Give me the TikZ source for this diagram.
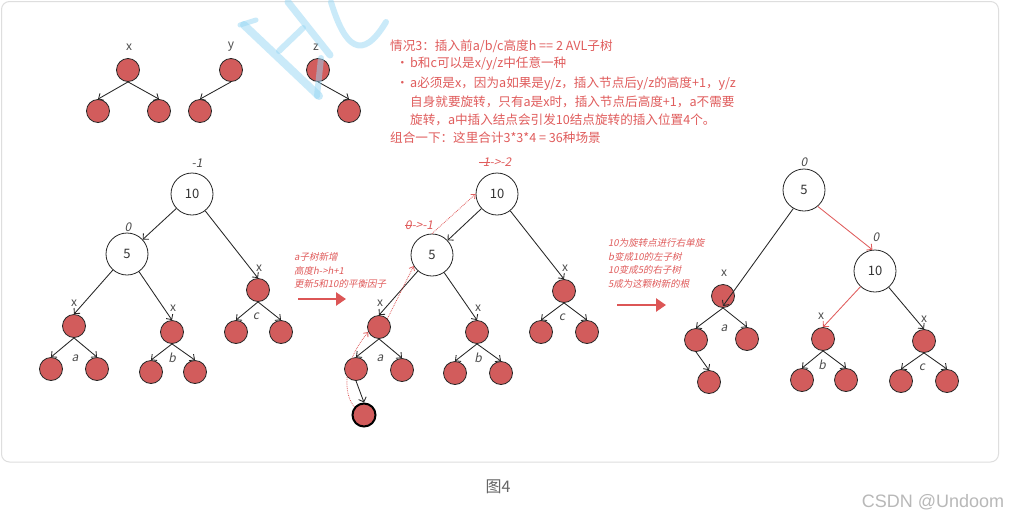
\documentclass[tikz,border=0pt]{standalone}
\usepackage{fontspec}
\setmainfont{Noto Sans CJK SC}
\newfontfamily\itf{Noto Sans CJK SC}[FakeSlant=0.2]
\newfontfamily\csdnf{Liberation Sans}
\newcommand\mystrike[1]{\setbox0=\hbox{#1}\rlap{\rule[0.33em]{\wd0}{0.7pt}}\box0}
\usetikzlibrary{arrows.meta}
\definecolor{nred}{RGB}{210,92,92}
\definecolor{tred}{RGB}{224,92,92}
\definecolor{ared}{RGB}{220,86,86}
\definecolor{wmblue}{RGB}{150,215,245}
\definecolor{framegray}{RGB}{222,222,222}
\begin{document}
\begin{tikzpicture}[x=1pt,y=-1pt,
  rn/.style={circle,draw=black!85,fill=nred,minimum size=23pt,inner sep=0pt,line width=0.8pt},
  rnthick/.style={rn,line width=2pt,draw=black},
  wn/.style={circle,draw=black!85,fill=white,minimum size=42pt,inner sep=0pt,line width=0.8pt,font=\fontsize{13}{15}\selectfont,text=black!80},
  ed/.style={draw=black!85,line width=0.85pt,-{Straight Barb[length=4pt,width=8pt]}},
  redg/.style={draw=tred,line width=0.85pt,-{Straight Barb[length=4pt,width=8pt]}},
  dotarr/.style={draw=tred,line width=0.8pt,densely dotted,-{Straight Barb[length=3.5pt,width=6pt]}},
  bigarr/.style={draw=ared,line width=2.5pt,-{Triangle[length=10pt,width=13pt]}},
  lbl/.style={font=\fontsize{12}{14}\selectfont,text=black!70,inner sep=0pt},
  ilbl/.style={font=\itf\fontsize{12}{14}\selectfont,text=black!70,inner sep=0pt},
  rilbl/.style={font=\itf\fontsize{12}{14}\selectfont,text=tred,inner sep=0pt},
  rtxt/.style={font=\fontsize{12.6}{14}\selectfont,text=tred,anchor=west,inner sep=0pt},
  rit/.style={font=\itf\fontsize{9.5}{11}\selectfont,text=tred,anchor=west,inner sep=0pt},
  wm/.style={draw=wmblue,opacity=0.5,line cap=round,line join=round}
]
\useasboundingbox (0,0) rectangle (1009,520);
\fill[white] (0,0) rectangle (1009,520);
\draw[framegray,line width=1pt,rounded corners=8pt] (1.5,1.5) rectangle (998.5,462);

% top small trees
\node[lbl] (lx) at (129,47) {x};
\node[rn] (x0) at (128,70) {};
\node[rn] (x1) at (98,111) {};
\node[rn] (x2) at (159,111) {};
\draw[ed] (x0.south) -- (x1.north);
\draw[ed] (x0.south) -- (x2.north);
\node[lbl] (ly) at (231,47) {y};
\node[rn] (y0) at (231,70) {};
\node[rn] (y1) at (200,111) {};
\draw[ed] (y0.south) -- (y1.north);
\node[lbl] (lz) at (316,47) {z};
\node[rn] (z0) at (318,70) {};
\node[rn] (z1) at (349,111) {};
\draw[ed] (z0.south) -- (z1.north);

% watermark (over the picture, translucent)
\draw[wm,line width=8pt] (244,25) -- (319,96);
\draw[wm,line width=5pt] (240,25) -- (256,20);
\draw[wm,line width=7pt] (288,2) -- (330,55);
\draw[wm,line width=6pt] (279,51) -- (303,28);
\draw[wm,line width=6pt] (321,58) -- (317,96);
\draw[wm,line width=6pt] (331,2) .. controls (345,48) and (362,62) .. (386,22);

% text block
\node[rtxt] (t1) at (390,46) {情况3：插入前a/b/c高度h == 2 AVL子树};
\node[rtxt] (b1) at (396,64) {•};
\node[rtxt] (t2) at (410,64) {b和c可以是x/y/z中任意一种};
\node[rtxt] (b2) at (396,84) {•};
\node[rtxt] (t3) at (410,84) {a必须是x，因为a如果是y/z，插入节点后y/z的高度+1，y/z};
\node[rtxt] (t4) at (410,102) {自身就要旋转，只有a是x时，插入节点后高度+1，a不需要};
\node[rtxt] (t5) at (410,120) {旋转，a中插入结点会引发10结点旋转的插入位置4个。};
\node[rtxt] (t6) at (390,138) {组合一下：这里合计3*3*4 = 36种场景};

% ---------- tree 1
\node[ilbl] (f1) at (197,163) {-1};
\node[wn] (A10) at (192,194) {10};
\node[ilbl] (f2) at (128,227) {0};
\node[wn] (A5) at (127,254) {5};
\node[lbl] (Alx) at (74,303) {x};
\node[rn] (Ax) at (74,326) {};
\node[rn] (Aa1) at (51,369) {};
\node[rn] (Aa2) at (97,369) {};
\node[ilbl] (Ala) at (75,358) {a};
\node[lbl] (Arx) at (173,308) {x};
\node[rn] (Ay) at (172,332) {};
\node[rn] (Ab1) at (151,372) {};
\node[rn] (Ab2) at (195,372) {};
\node[ilbl] (Alb) at (172,358) {b};
\node[lbl] (Acx) at (259,268) {x};
\node[rn] (Az) at (258,290) {};
\node[rn] (Ac1) at (236,332) {};
\node[rn] (Ac2) at (281,332) {};
\node[ilbl] (Alc) at (256,316) {c};
\draw[ed] (A10) -- (A5);
\draw[ed] (A10) -- (Az.north);
\draw[ed] (A5) -- (Ax.north);
\draw[ed] (A5) -- (Ay.north);
\draw[ed] (Ax.south) -- (Aa1.north);
\draw[ed] (Ax.south) -- (Aa2.north);
\draw[ed] (Ay.south) -- (Ab1.north);
\draw[ed] (Ay.south) -- (Ab2.north);
\draw[ed] (Az.south) -- (Ac1.north);
\draw[ed] (Az.south) -- (Ac2.north);

% arrow 1
\node[rit] (m1) at (294,257) {a子树新增};
\node[rit] (m2) at (294,271) {高度h->h+1};
\node[rit] (m3) at (294,284) {更新5和10的平衡因子};
\coordinate (ar1s) at (298,299);
\coordinate (ar1e) at (346,299);
\draw[bigarr] (ar1s) -- (ar1e);

% ---------- tree 2
\node[rilbl] (g1) at (495,162) {\mystrike{-1}->-2};
\node[wn] (B10) at (497,194) {10};
\node[rilbl] (g2) at (419,225) {\mystrike{0}->-1};
\node[wn] (B5) at (432,255) {5};
\node[lbl] (Blx) at (380,303) {x};
\node[rn] (Bx) at (379,327) {};
\node[rn] (Ba1) at (356,369) {};
\node[rn] (Ba2) at (402,370) {};
\node[ilbl] (Bla) at (380,358) {a};
\node[rnthick] (Bnew) at (364,415) {};
\node[lbl] (Brx) at (478,308) {x};
\node[rn] (By) at (477,332) {};
\node[rn] (Bb1) at (455,373) {};
\node[rn] (Bb2) at (501,373) {};
\node[ilbl] (Blb) at (478,358) {b};
\node[lbl] (Bcx) at (565,268) {x};
\node[rn] (Bz) at (564,291) {};
\node[rn] (Bc1) at (541,332) {};
\node[rn] (Bc2) at (587,332) {};
\node[ilbl] (Blc) at (562,317) {c};
\draw[ed] (B10) -- (B5);
\draw[ed] (B10) -- (Bz.north);
\draw[ed] (B5) -- (Bx.north);
\draw[ed] (B5) -- (By.north);
\draw[ed] (Bx.south) -- (Ba1.north);
\draw[ed] (Bx.south) -- (Ba2.north);
\draw[ed] (Ba1.south) -- (Bnew.north);
\draw[ed] (By.south) -- (Bb1.north);
\draw[ed] (By.south) -- (Bb2.north);
\draw[ed] (Bz.south) -- (Bc1.north);
\draw[ed] (Bz.south) -- (Bc2.north);
% dotted red path
\draw[dotarr] (Bnew.140) .. controls (344,395) and (341,365) .. (Bx.205);
\draw[dotarr] (Bx.north east) -- (B5.211);
\draw[dotarr] (B5.90) -- (B10.west);

% arrow 2
\node[rit] (n1) at (608,243) {10为旋转点进行右单旋};
\node[rit] (n2) at (608,257) {b变成10的左子树};
\node[rit] (n3) at (608,270) {10变成5的右子树};
\node[rit] (n4) at (608,284) {5成为这颗树新的根};
\coordinate (ar2s) at (617,305);
\coordinate (ar2e) at (666,305);
\draw[bigarr] (ar2s) -- (ar2e);

% ---------- tree 3
\node[ilbl] (h1) at (804,162) {0};
\node[wn] (C5) at (804,190) {5};
\node[ilbl] (h2) at (876,237) {0};
\node[wn] (C10) at (875,271) {10};
\node[lbl] (Clx) at (724,273) {x};
\node[rn] (Cx) at (723,296) {};
\node[rn] (Ca1) at (696,340) {};
\node[rn] (Ca2) at (747,339) {};
\node[ilbl] (Cla) at (724,328) {a};
\node[rn] (Cnew) at (709,382) {};
\node[lbl] (Cbx) at (821,316) {x};
\node[rn] (Cy) at (823,339) {};
\node[rn] (Cb1) at (802,380) {};
\node[rn] (Cb2) at (846,380) {};
\node[ilbl] (Clb) at (822,365) {b};
\node[lbl] (Ccx) at (924,319) {x};
\node[rn] (Cz) at (924,341) {};
\node[rn] (Cc1) at (901,381) {};
\node[rn] (Cc2) at (947,381) {};
\node[ilbl] (Clc) at (922,367) {c};
\draw[ed] (C5.-120) -- ([yshift=-10pt]Cx.center);
\draw[redg] (C5.-50) -- (C10.97);
\draw[redg] (C10) -- (Cy.north);
\draw[ed] (C10) -- (Cz.north);
\draw[ed] (Cx.south) -- (Ca1.north);
\draw[ed] (Cx.south) -- (Ca2.north);
\draw[ed] (Ca1.south) -- (Cnew.north);
\draw[ed] (Cy.south) -- (Cb1.north);
\draw[ed] (Cy.south) -- (Cb2.north);
\draw[ed] (Cz.south) -- (Cc1.north);
\draw[ed] (Cz.south) -- (Cc2.north);

% caption
\node[font=\fontsize{16}{18}\selectfont,text=black!60,inner sep=0pt] (cap) at (498,487) {图4};
\node[font=\csdnf\fontsize{18}{20}\selectfont,text=black!28,inner sep=0pt] (csdn) at (933,502) {CSDN @Undoom};
\end{tikzpicture}
\end{document}
